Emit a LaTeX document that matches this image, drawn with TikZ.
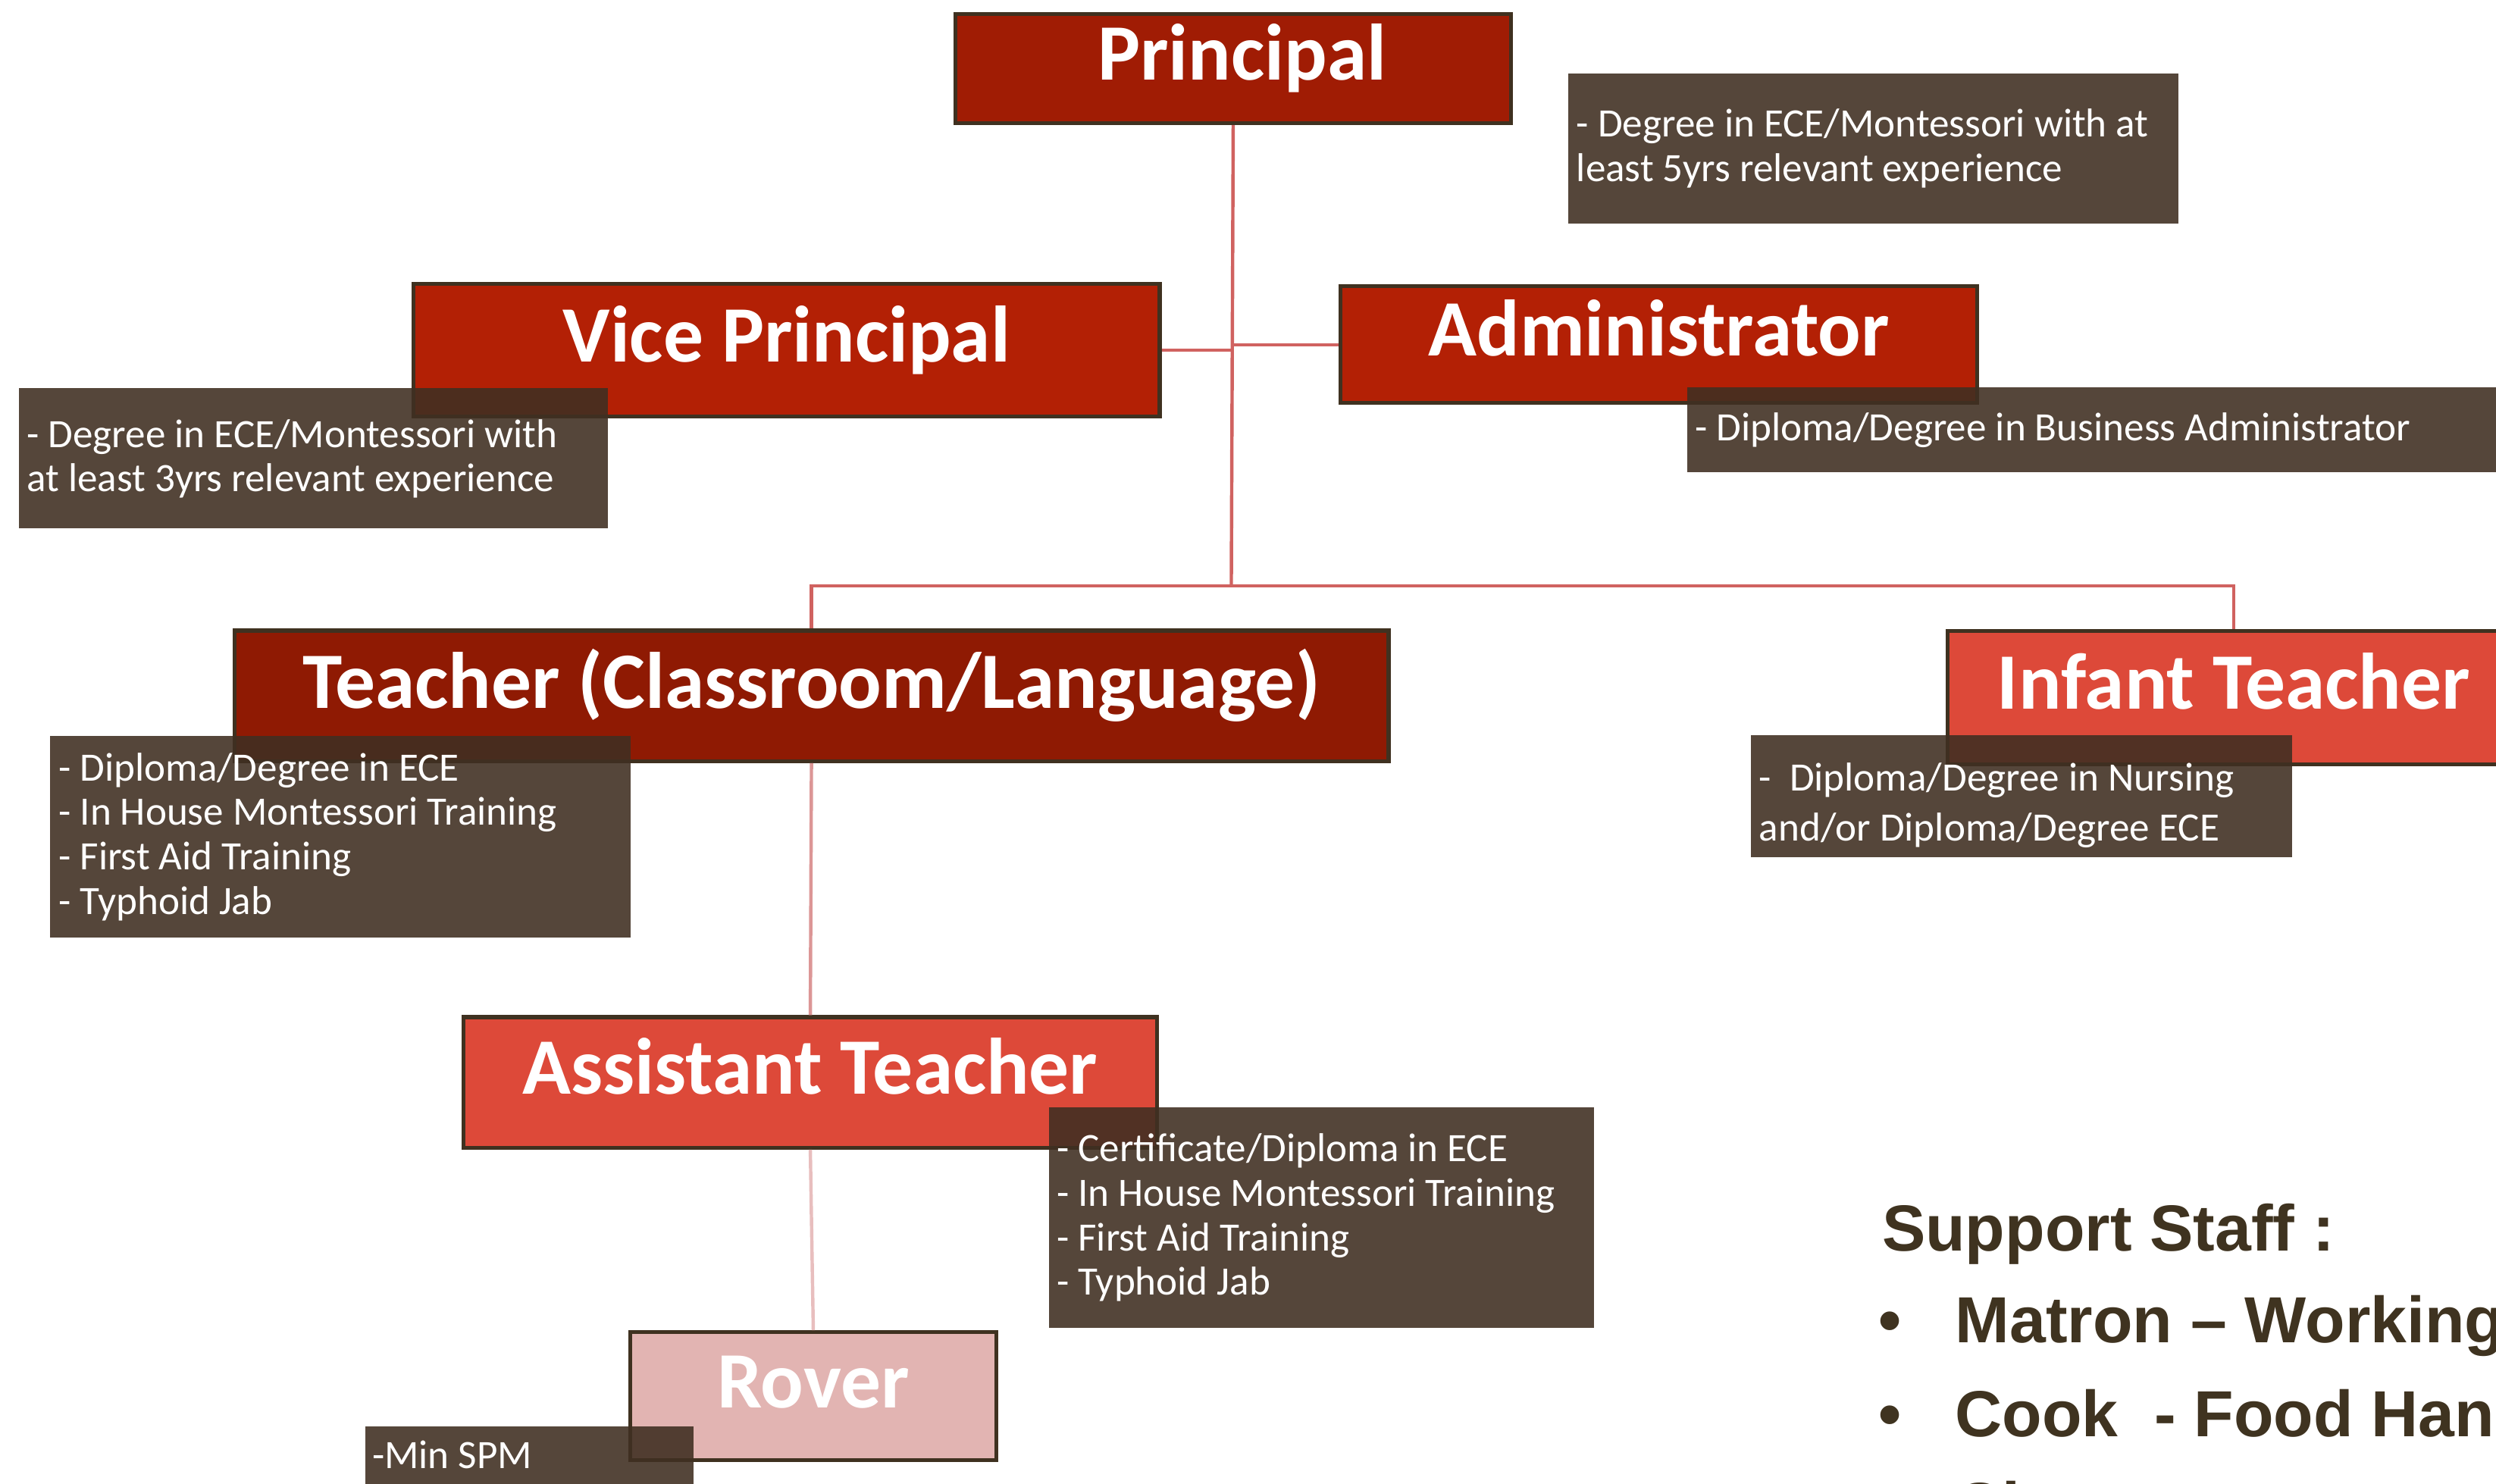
\documentclass[tikz,border=0pt]{standalone}
\usepackage{fontspec}
\setmainfont{Carlito}
\newfontfamily\arialfont{Liberation Sans}
\definecolor{boxline}{RGB}{63,49,32}
\definecolor{cprin}{RGB}{160,28,4}
\definecolor{cvp}{RGB}{179,32,5}
\definecolor{cteach}{RGB}{143,26,3}
\definecolor{clight}{RGB}{221,73,57}
\definecolor{crover}{RGB}{226,180,178}
\definecolor{notefill}{RGB}{64,47,34}
\definecolor{connA}{RGB}{208,98,96}
\definecolor{connB}{RGB}{220,150,150}
\definecolor{connC}{RGB}{232,190,190}
\definecolor{staff}{RGB}{63,51,32}
\tikzset{
 rolebox/.style={draw=boxline, line width=1.4pt, inner sep=0pt, anchor=north west, text=white, font=\fontsize{28.6}{30}\selectfont\bfseries},
 notebox/.style={fill=notefill, fill opacity=0.89, inner sep=0pt, anchor=north west},
 notetext/.style={text=white, inner sep=0pt, anchor=base west, font=\fontsize{14.4}{16}\selectfont},
 conn/.style={line width=1.2pt},
 stafftext/.style={text=staff, inner sep=0pt, anchor=base west, font=\arialfont\bfseries\fontsize{23.3}{26}\selectfont},
}
\begin{document}
\begin{tikzpicture}[x=0.02cm,y=-0.02cm]
\useasboundingbox (0,0) rectangle (1568,932);
\clip (0,0) rectangle (1568,932);
% role boxes
\node[rolebox, fill=cprin, minimum width=6.98cm, text height=0.832cm, text depth=0.54cm] (P) at (599,7.6) {\hspace*{0.22cm}Principal};
\node[rolebox, fill=cvp, minimum width=9.376cm, text height=0.98cm, text depth=0.692cm] (VP) at (258.6,177) {Vice Principal};
\node[rolebox, fill=cvp, minimum width=7.998cm, text height=0.876cm, text depth=0.592cm] (AD) at (841,178.6) {Administrator};
\node[rolebox, fill=cteach, minimum width=14.504cm, text height=0.976cm, text depth=0.666cm] (T) at (146,394.9) {Teacher (Classroom/Language)};
\node[rolebox, fill=clight, minimum width=7.184cm, text height=0.976cm, text depth=0.70cm] (IT) at (1222.4,395.2) {Infant Teacher};
\node[rolebox, fill=clight, minimum width=8.714cm, text height=0.966cm, text depth=0.674cm] (AT) at (290,637.8) {Assistant Teacher};
\node[rolebox, fill=crover, minimum width=4.604cm, text height=0.952cm, text depth=0.658cm] (R) at (394.6,835.7) {Rover};
% connectors
\coordinate (hub) at (773.5,368);
\draw[conn, connA] (P.south) -- (hub);
\draw[conn, connA] (VP.east) -- (VP.east -| P.south);
\draw[conn, connA] (AD.west) -- (AD.west -| P.south);
\draw[conn, connA] (T.north) |- (hub) -| (IT.north);
\draw[conn, connB] (T.south) -- (AT.north);
\draw[conn, connC] (AT.south) -- (R.north);
% notes
\node[notebox, minimum width=7.66cm, minimum height=1.88cm] (PN) at (985,46) {};
\node[notetext] (PN1) at (990,86) {- Degree in ECE/Montessori with at};
\node[notetext] (PN2) at (990,114) {least 5yrs relevant experience};
\node[notebox, minimum width=7.394cm, minimum height=1.768cm] (VPN) at (11.7,243.3) {};
\node[notetext] (VPN1) at (16.5,281) {- Degree in ECE/Montessori with};
\node[notetext] (VPN2) at (16.5,308.6) {at least 3yrs relevant experience};
\node[notebox, minimum width=10.8cm, minimum height=1.072cm] (ADN) at (1059.5,242.9) {};
\node[notetext] (ADN1) at (1064.5,277) {- Diploma/Degree in Business Administrator};
\node[notebox, minimum width=7.294cm, minimum height=2.54cm] (TN) at (31.1,461.9) {};
\node[notetext] (TN1) at (36.5,490.5) {- Diploma/Degree in ECE};
\node[notetext] (TN2) at (36.5,518.3) {- In House Montessori Training};
\node[notetext] (TN3) at (36.5,546.3) {- First Aid Training};
\node[notetext] (TN4) at (36.5,574.3) {- Typhoid Jab};
\node[notebox, minimum width=6.796cm, minimum height=1.536cm] (ITN) at (1099.7,461.6) {};
\node[notetext] (ITN1) at (1104.7,496.8) {-\ \ Diploma/Degree in Nursing};
\node[notetext] (ITN2) at (1104.7,528.2) {and/or Diploma/Degree ECE};
\node[notebox, minimum width=6.844cm, minimum height=2.776cm] (ATN) at (658.8,695.2) {};
\node[notetext] (ATN1) at (663.5,729.9) {- Certificate/Diploma in ECE};
\node[notetext] (ATN2) at (663.5,758) {- In House Montessori Training};
\node[notetext] (ATN3) at (663.5,786) {- First Aid Training};
\node[notetext] (ATN4) at (663.5,813.7) {- Typhoid Jab};
\node[notebox, minimum width=4.124cm, minimum height=1.286cm] (RN) at (229,895.7) {};
\node[notetext] (RN1) at (233.5,922.4) {-Min SPM};
% support staff
\node[stafftext] (S0) at (1182,785.7) {Support Staff :};
\node[stafftext] (B1) at (1180,843.6) {•};
\node[stafftext] (S1) at (1228,843.6) {Matron – Working};
\node[stafftext] (B2) at (1180,902.4) {•};
\node[stafftext] (S2) at (1228,902.4) {Cook\ \ - Food Hand};
\node[stafftext] (S3) at (1228,960.4) {Cl};
\end{tikzpicture}
\end{document}
